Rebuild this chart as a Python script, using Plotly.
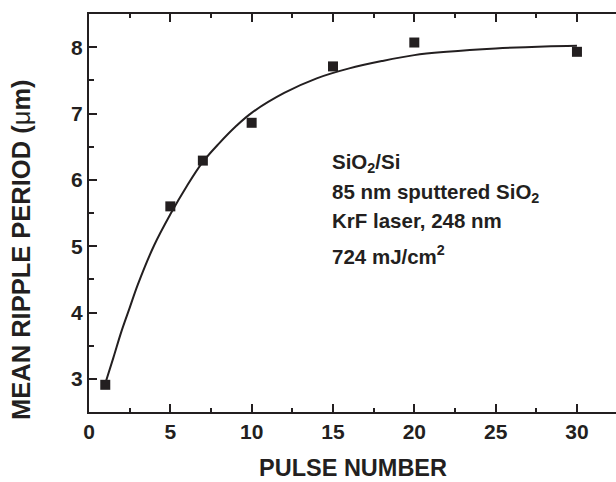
import plotly.graph_objects as go

# measured data points
pulse_number = [1, 5, 7, 10, 15, 20, 30]
ripple_period = [2.91, 5.60, 6.29, 6.86, 7.71, 8.07, 7.93]

# fitted curve
fit_x = [1, 1.5, 2, 2.5, 3, 4, 5, 6, 7, 8, 9, 10, 12, 14, 16, 18, 20, 22, 25, 28, 30]
fit_y = [2.93, 3.32, 3.72, 4.07, 4.42, 5.01, 5.48, 5.90, 6.27, 6.55, 6.80, 7.01,
         7.31, 7.53, 7.68, 7.79, 7.88, 7.93, 7.98, 8.01, 8.02]

x_ticks = [0, 5, 10, 15, 20, 25, 30]
y_ticks = [3, 4, 5, 6, 7, 8]

annot_lines = ["SiO<sub>2</sub>/Si", "85 nm sputtered SiO<sub>2</sub>",
               "KrF laser, 248 nm", "724 mJ/cm<sup>2</sup>"]
annot_y = [6.25, 5.80, 5.39, 4.86]

x_title = "PULSE NUMBER"
y_title = "MEAN RIPPLE PERIOD (<span style='font-weight:normal'>μ</span>m)"

INK = "#231f20"
FONT = "Liberation Sans"

fig = go.Figure()
fig.add_trace(go.Scatter(x=fit_x, y=fit_y, mode="lines", line=dict(color=INK, width=2, shape="spline"),
                         showlegend=False, hoverinfo="skip"))
fig.add_trace(go.Scatter(x=pulse_number, y=ripple_period, mode="markers",
                         marker=dict(symbol="square", size=10, color=INK), showlegend=False))

for txt, yy in zip(annot_lines, annot_y):
    fig.add_annotation(x=14.8, y=yy, xref="x", yref="y", text=txt, showarrow=False,
                       xanchor="left", yanchor="middle",
                       font=dict(family=FONT, size=20.5, color=INK, weight=700))

# axis titles as annotations for exact placement
fig.add_annotation(x=0.5, y=0, xref="paper", yref="paper", yshift=-56, text=x_title,
                   showarrow=False, xanchor="center", yanchor="middle",
                   font=dict(family=FONT, size=23.5, color=INK, weight=700))
fig.add_annotation(x=0, y=0.407, xref="paper", yref="paper", xshift=-68, text=y_title,
                   textangle=-90, showarrow=False, xanchor="center", yanchor="middle",
                   font=dict(family=FONT, size=25.5, color=INK, weight=700))

axis_common = dict(showline=True, linecolor=INK, linewidth=2, ticks="inside", tickcolor=INK,
                   tickwidth=2, ticklen=8, showgrid=False, zeroline=False,
                   tickfont=dict(family=FONT, size=21, color=INK, weight=700))

fig.update_xaxes(range=[0, 32.4], tickvals=x_ticks, mirror="ticks",
                 minor=dict(ticks="inside", ticklen=4, tickwidth=2, tickcolor=INK, dtick=2.5, tick0=0),
                 **axis_common)
fig.update_yaxes(range=[2.5, 8.5], tickvals=y_ticks,
                 minor=dict(ticks="inside", ticklen=5, tickwidth=2, tickcolor=INK, dtick=0.5, tick0=0),
                 **axis_common)

fig.update_layout(width=616, height=482, margin=dict(l=89, r=0, t=14, b=70),
                  plot_bgcolor="white", paper_bgcolor="white")

fig.write_html("out.html")
